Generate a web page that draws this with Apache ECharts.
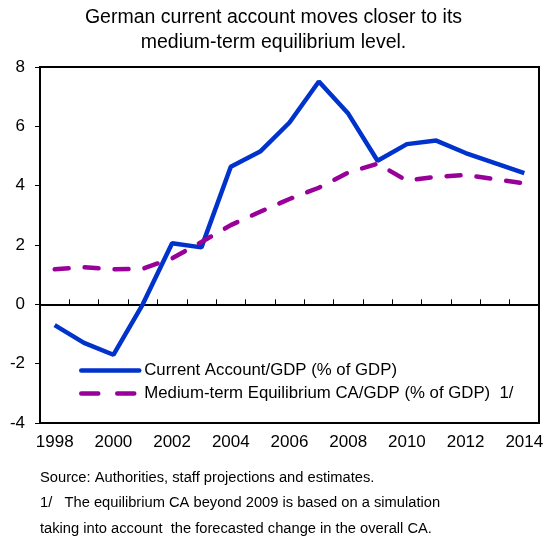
<!DOCTYPE html>
<html>
  <head>
    <meta charset="utf-8">
    <title>German current account</title>
    <script src="https://cdn.jsdelivr.net/npm/echarts@6/dist/echarts.min.js"></script>
    <style>
      html, body { margin: 0; padding: 0; background: #fff; }
      #chart { width: 547px; height: 538px; }
    </style>
  </head>
  <body>
    <div id="chart"></div>
    <script>
      // data
      var years = ['1998','1999','2000','2001','2002','2003','2004','2005','2006',
                   '2007','2008','2009','2010','2011','2012','2013','2014'];
      var currentAccount = [-0.7, -1.3, -1.7, 0.0, 2.06, 1.92, 4.64, 5.15, 6.13,
                            7.51, 6.43, 4.84, 5.4, 5.52, 5.1, 4.76, 4.42];
      var equilibrium = [1.18, 1.25, 1.18, 1.2, 1.55, 2.1, 2.67, 3.12, 3.55,
                         3.93, 4.44, 4.74, 4.17, 4.3, 4.36, 4.22, 4.08];
      var yTicks = [-4, -2, 0, 2, 4, 6, 8];
      var font = '"Liberation Sans", Arial, sans-serif';

      var chart = echarts.init(document.getElementById('chart'));
      chart.setOption({
        animation: false,
        title: [{
          text: 'German current account moves closer to its\nmedium-term equilibrium level.',
          left: 'center',
          top: 5,
          padding: 0,
          textStyle: { fontFamily: font, fontSize: 19.5, fontWeight: 'normal', color: '#000', lineHeight: 25 }
        }, {
          text: 'Source: Authorities, staff projections and estimates.\n' +
                '1/   The equilibrium CA beyond 2009 is based on a simulation\n' +
                'taking into account  the forecasted change in the overall CA.',
          left: 40,
          top: 465,
          padding: 0,
          textStyle: { fontFamily: font, fontSize: 14.7, fontWeight: 'normal', color: '#000', lineHeight: 25.5 }
        }],
        legend: {
          orient: 'vertical',
          left: 79,
          top: 362,
          padding: 0,
          itemWidth: 58,
          itemHeight: 14,
          itemGap: 6,
          itemStyle: { opacity: 0 },
          lineStyle: { width: 4.5, cap: 'round' },
          textStyle: { fontFamily: font, fontSize: 16.8, color: '#000', lineHeight: 14 },
          data: [
            { name: 'Current Account/GDP (% of GDP)', lineStyle: { type: 'solid', width: 4.5 } },
            { name: 'Medium-term Equilibrium CA/GDP (% of GDP)  1/', lineStyle: { type: [17, 19], width: 4.5 } }
          ]
        },
        grid: {
          left: 40, right: 8, top: 67, bottom: 115,
          show: true, borderColor: '#000', borderWidth: 2
        },
        xAxis: [{
          type: 'category',
          data: years,
          boundaryGap: true,
          position: 'bottom',
          axisLine: { onZero: false, lineStyle: { color: '#000', width: 2 } },
          axisTick: { show: false },
          axisLabel: { interval: 1, margin: 11, fontFamily: font, fontSize: 17, color: '#000' },
          splitLine: { show: false }
        }, {
          type: 'category',
          data: years,
          boundaryGap: true,
          position: 'bottom',
          axisLine: { onZero: true, lineStyle: { color: '#000', width: 2 } },
          axisTick: { show: true, inside: true, interval: 0, length: 5, lineStyle: { color: '#000', width: 1 } },
          axisLabel: { show: false },
          splitLine: { show: false }
        }],
        yAxis: {
          type: 'value',
          min: yTicks[0],
          max: yTicks[yTicks.length - 1],
          interval: 2,
          axisLine: { show: true, lineStyle: { color: '#000', width: 2 } },
          axisTick: { show: true, length: 5, lineStyle: { color: '#000', width: 1 } },
          axisLabel: { margin: 15, fontFamily: font, fontSize: 17, color: '#000' },
          splitLine: { show: false }
        },
        series: [{
          name: 'Current Account/GDP (% of GDP)',
          type: 'line',
          data: currentAccount,
          xAxisIndex: 0,
          showSymbol: false,
          symbol: 'none',
          lineStyle: { color: '#0033cc', width: 4.5 },
          itemStyle: { color: '#0033cc' }
        }, {
          name: 'Medium-term Equilibrium CA/GDP (% of GDP)  1/',
          type: 'line',
          data: equilibrium,
          xAxisIndex: 0,
          showSymbol: false,
          symbol: 'none',
          lineStyle: { color: '#990099', width: 4.5, type: [14, 16], cap: 'round' },
          itemStyle: { color: '#990099' }
        }]
      });
    </script>
  </body>
</html>
